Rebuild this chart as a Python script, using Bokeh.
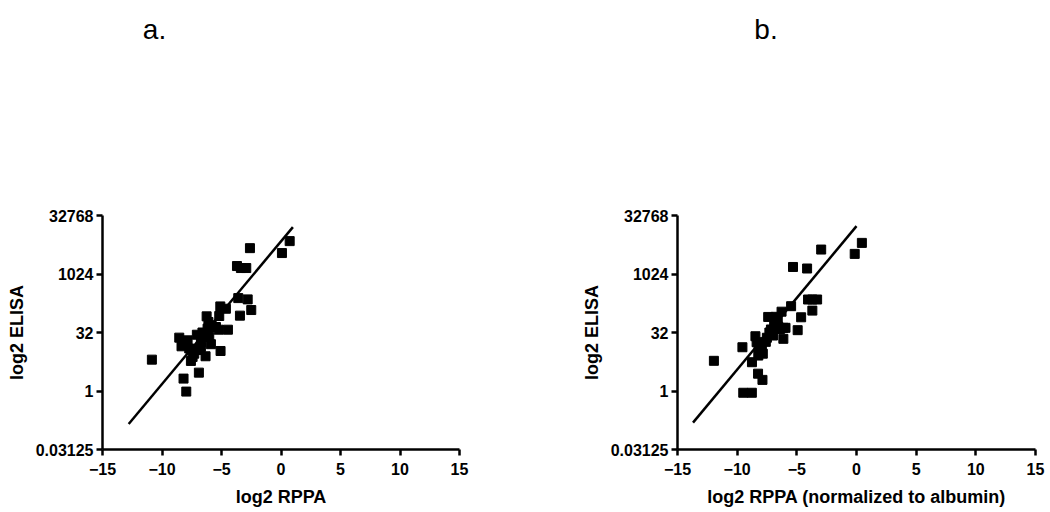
import numpy as np
from bokeh.plotting import figure
from bokeh.layouts import row, column
from bokeh.models import Range1d, FixedTicker, Label
from bokeh.embed import file_html
from bokeh.resources import INLINE

# ---- data (log2 values) ----
a_x = [-10.85, -8.19, -7.96, -6.90, -8.55, -8.36, -7.85, -7.57, -7.29, -7.71,
       -7.43, -7.07, -6.73, -6.73, -6.45, -6.34, -6.25, -6.17, -6.03, -5.83,
       -5.89, -5.47, -5.24, -5.19, -5.10, -5.08, -4.63, -4.46, -3.70, -3.37,
       -2.92, -3.59, -2.80, -3.45, -2.50, -2.61, 0.08, 0.73, -6.60, -7.00, -6.10]
a_y = [2.68, 1.06, -0.05, 1.57, 4.56, 3.82, 4.33, 2.57, 3.19, 3.63,
       2.91, 4.81, 4.19, 3.76, 4.62, 2.97, 6.38, 5.33, 4.62, 5.61,
       4.00, 5.47, 5.24, 6.41, 7.23, 3.42, 7.03, 5.24, 10.68, 10.51,
       10.51, 7.94, 7.83, 6.44, 6.92, 12.21, 11.79, 12.81, 5.00, 3.50, 5.90]

b_x = [-11.95, -9.56, -9.49, -8.77, -8.76, -8.25, -7.88, -8.47, -8.37, -8.21,
       -7.85, -8.23, -7.93, -7.51, -7.40, -7.17, -7.00, -6.77, -6.56, -6.28,
       -6.12, -6.13, -5.95, -5.48, -4.93, -4.64, -5.32, -4.14, -4.06, -3.30,
       -3.70, -2.96, -0.15, 0.45, -7.30, -6.90, -8.00, -7.60, -3.70, -6.60, -6.40]
b_y = [2.58, 3.74, -0.15, -0.15, 2.46, 1.48, 0.95, 4.68, 4.17, 3.69,
       3.19, 3.03, 3.89, 4.55, 6.33, 5.26, 4.74, 6.34, 5.50, 6.78,
       5.40, 4.46, 5.40, 7.25, 5.20, 6.30, 10.60, 10.47, 7.82, 7.82,
       6.87, 12.09, 11.72, 12.66, 5.00, 5.80, 3.50, 4.20, 7.82, 6.20, 5.30]

# regression lines (slope, intercept, x-extent)
a_fit_slope, a_fit_intercept, a_fit_x = 1.22, 12.79, [-12.8, 1.0]
b_fit_slope, b_fit_intercept, b_fit_x = 1.226, 14.09, [-13.7, 0.0]

x_ticks = [-15, -10, -5, 0, 5, 10, 15]
y_ticks = [-5, 0, 5, 10, 15]
y_tick_labels = ["0.03125", "1", "32", "1024", "32768"]
panel_tags = ["a.", "b."]

FONT = "Liberation Sans"
HEADER_H = 60

# header strip that carries the panel letters
header = figure(width=1050, height=HEADER_H, x_range=Range1d(0, 1050), y_range=Range1d(HEADER_H, 0),
                output_backend="svg", toolbar_location=None,
                x_axis_location=None, y_axis_location=None,
                min_border=0, min_border_left=0, min_border_right=0,
                min_border_top=0, min_border_bottom=0)
header.outline_line_color = None
header.xgrid.visible = False
header.ygrid.visible = False
header.background_fill_color = "white"
header.border_fill_color = "white"
for tag, tx in zip(panel_tags, [154, 765.5]):
    header.add_layout(Label(x=tx, y=29, text=tag, text_font=FONT, text_font_size="28px",
                            text_align="center", text_baseline="alphabetic", text_color="black"))


def panel(xs, ys, slope, intercept, fit_x, xlabel, width, mb_left, mb_right):
    p = figure(width=width, height=512 - HEADER_H, x_range=Range1d(-15, 15), y_range=Range1d(-5, 15),
               output_backend="svg", toolbar_location=None,
               min_border_left=mb_left, min_border_right=mb_right,
               min_border_top=215 - HEADER_H, min_border_bottom=63)
    p.outline_line_color = None
    p.xgrid.visible = False
    p.ygrid.visible = False
    p.background_fill_color = "white"
    p.border_fill_color = "white"

    p.scatter(xs, ys, marker="square", size=9, color="black")
    fx = np.array(fit_x)
    p.line(fx, slope * fx + intercept, line_width=2.5, color="black")

    p.xaxis.ticker = FixedTicker(ticks=x_ticks)
    p.yaxis.ticker = FixedTicker(ticks=y_ticks)
    p.yaxis.major_label_overrides = {t: l for t, l in zip(y_ticks, y_tick_labels)}
    for ax in (p.xaxis[0], p.yaxis[0]):
        ax.axis_line_width = 2.5
        ax.axis_line_color = "black"
        ax.major_tick_line_width = 2.5
        ax.major_tick_line_color = "black"
        ax.major_tick_in = 0
        ax.major_tick_out = 6
        ax.minor_tick_line_color = None
        ax.major_label_text_font = FONT
        ax.major_label_text_font_style = "bold"
        ax.major_label_text_font_size = "16px"
        ax.major_label_text_color = "black"
        ax.axis_label_text_font = FONT
        ax.axis_label_text_font_style = "bold"
        ax.axis_label_text_font_size = "18px"
        ax.axis_label_text_color = "black"
    p.xaxis.major_label_standoff = 7
    p.xaxis.axis_label_standoff = 9
    p.yaxis.major_label_standoff = 3
    p.yaxis.axis_label_standoff = 6
    p.xaxis.axis_label = xlabel
    p.yaxis.axis_label = "log2 ELISA"
    return p


pa = panel(a_x, a_y, a_fit_slope, a_fit_intercept, a_fit_x, "log2 RPPA", 568, 102, 109)
pb = panel(b_x, b_y, b_fit_slope, b_fit_intercept, b_fit_x,
           "log2 RPPA (normalized to albumin)", 482, 109, 15)

layout = column(header, row(pa, pb))
open("out.html", "w").write(file_html(layout, INLINE))
